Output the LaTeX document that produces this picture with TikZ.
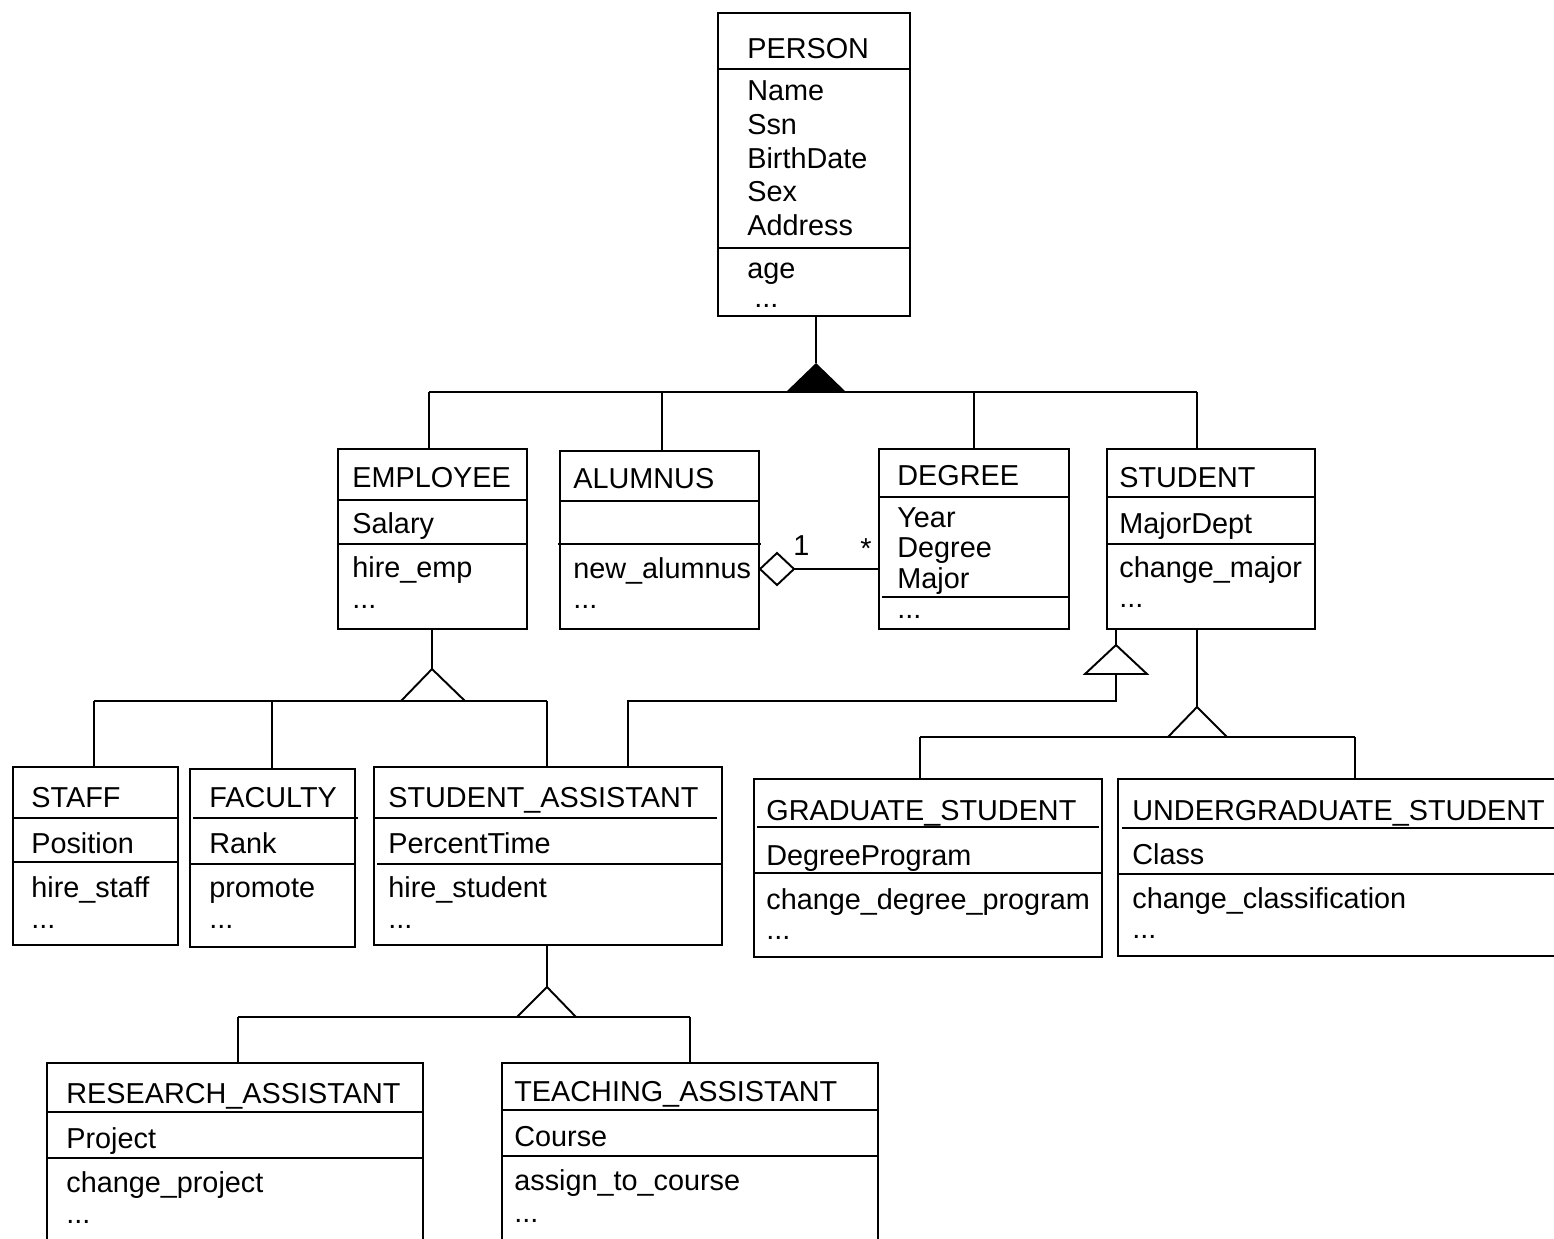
\documentclass[tikz,border=0pt]{standalone}
\usepackage{fontspec}
\setmainfont{Liberation Sans}
\usetikzlibrary{fit}

\tikzset{
  classbox/.style={draw, line width=1.1pt, inner sep=0pt},
  rule/.style={line width=1.1pt},
  link/.style={line width=1.1pt, line join=miter},
  lbl/.style={anchor=base west, inner sep=0pt, font=\fontsize{16.4pt}{19pt}\selectfont},
}

\begin{document}
\begin{tikzpicture}[x=0.02cm, y=-0.02cm]
\useasboundingbox (0,0) rectangle (1554,1238);
\clip (0,0) rectangle (1554,1238);
\fill[white] (0,0) rectangle (1554,1238);

% ---------- PERSON ----------
\node[classbox, fit={(718,13) (910,316)}] (person) {};
\draw[rule] (718,69) -- (910,69);
\draw[rule] (718,248) -- (910,248);
\node[lbl] (person-t)  at (747,58)  {PERSON};
\node[lbl] (person-a1) at (747,100) {Name};
\node[lbl] (person-a2) at (747,134) {Ssn};
\node[lbl] (person-a3) at (747,168) {BirthDate};
\node[lbl] (person-a4) at (747,201) {Sex};
\node[lbl] (person-a5) at (747,235) {Address};
\node[lbl] (person-m1) at (747,278) {age};
\node[lbl] (person-m2) at (754,307) {...};

% ---------- EMPLOYEE ----------
\node[classbox, fit={(338,449) (527,629)}] (employee) {};
\draw[rule] (338,500) -- (527,500);
\draw[rule] (338,544) -- (527,544);
\node[lbl] (employee-t)  at (352,487) {EMPLOYEE};
\node[lbl] (employee-a1) at (352,533) {Salary};
\node[lbl] (employee-m1) at (352,577) {hire\_emp};
\node[lbl] (employee-m2) at (352,608) {...};

% ---------- ALUMNUS ----------
\node[classbox, fit={(560,451) (759,629)}] (alumnus) {};
\draw[rule] (560,501) -- (759,501);
\draw[rule] (558,544) -- (761,544);
\node[lbl] (alumnus-t)  at (573,488) {ALUMNUS};
\node[lbl] (alumnus-m1) at (573,578) {new\_alumnus};
\node[lbl] (alumnus-m2) at (573,608) {...};

% ---------- DEGREE ----------
\node[classbox, fit={(879,449) (1069,629)}] (degree) {};
\draw[rule] (879,497) -- (1069,497);
\draw[rule] (882,597) -- (1070,597);
\node[lbl] (degree-t)  at (897,485) {DEGREE};
\node[lbl] (degree-a1) at (897,527) {Year};
\node[lbl] (degree-a2) at (897,557) {Degree};
\node[lbl] (degree-a3) at (897,588) {Major};
\node[lbl] (degree-m1) at (897,618) {...};

% ---------- STUDENT ----------
\node[classbox, fit={(1107,449) (1315,629)}] (student) {};
\draw[rule] (1107,497) -- (1315,497);
\draw[rule] (1107,544) -- (1315,544);
\node[lbl] (student-t)  at (1119,487) {STUDENT};
\node[lbl] (student-a1) at (1119,533) {MajorDept};
\node[lbl] (student-m1) at (1119,577) {change\_major};
\node[lbl] (student-m2) at (1119,607) {...};

% ---------- STAFF ----------
\node[classbox, fit={(13,767) (178,945)}] (staff) {};
\draw[rule] (13,818) -- (178,818);
\draw[rule] (13,862) -- (178,862);
\node[lbl] (staff-t)  at (31,807) {STAFF};
\node[lbl] (staff-a1) at (31,853) {Position};
\node[lbl] (staff-m1) at (31,897) {hire\_staff};
\node[lbl] (staff-m2) at (31,928) {...};

% ---------- FACULTY ----------
\node[classbox, fit={(190,769) (355,947)}] (faculty) {};
\draw[rule] (193,818) -- (358,818);
\draw[rule] (190,864) -- (355,864);
\node[lbl] (faculty-t)  at (209,807) {FACULTY};
\node[lbl] (faculty-a1) at (209,853) {Rank};
\node[lbl] (faculty-m1) at (209,897) {promote};
\node[lbl] (faculty-m2) at (209,928) {...};

% ---------- STUDENT_ASSISTANT ----------
\node[classbox, fit={(374,767) (722,945)}] (sassist) {};
\draw[rule] (374,818) -- (717,818);
\draw[rule] (377,864) -- (722,864);
\node[lbl] (sassist-t)  at (388,807) {STUDENT\_ASSISTANT};
\node[lbl] (sassist-a1) at (388,853) {PercentTime};
\node[lbl] (sassist-m1) at (388,897) {hire\_student};
\node[lbl] (sassist-m2) at (388,928) {...};

% ---------- GRADUATE_STUDENT ----------
\node[classbox, fit={(754,779) (1102,957)}] (grad) {};
\draw[rule] (757,827) -- (1099,827);
\draw[rule] (754,873) -- (1102,873);
\node[lbl] (grad-t)  at (766,820) {GRADUATE\_STUDENT};
\node[lbl] (grad-a1) at (766,865) {DegreeProgram};
\node[lbl] (grad-m1) at (766,909) {change\_degree\_program};
\node[lbl] (grad-m2) at (766,939) {...};

% ---------- UNDERGRADUATE_STUDENT ----------
\node[classbox, fit={(1118,779) (1580,956)}] (undergrad) {};
\draw[rule] (1122,828) -- (1580,828);
\draw[rule] (1118,874) -- (1580,874);
\node[lbl] (undergrad-t)  at (1132,820) {UNDERGRADUATE\_STUDENT};
\node[lbl] (undergrad-a1) at (1132,864) {Class};
\node[lbl] (undergrad-m1) at (1132,908) {change\_classification};
\node[lbl] (undergrad-m2) at (1132,938) {...};

% ---------- RESEARCH_ASSISTANT ----------
\node[classbox, fit={(47,1063) (423,1260)}] (research) {};
\draw[rule] (47,1112) -- (423,1112);
\draw[rule] (47,1158) -- (423,1158);
\node[lbl] (research-t)  at (66,1103) {RESEARCH\_ASSISTANT};
\node[lbl] (research-a1) at (66,1148) {Project};
\node[lbl] (research-m1) at (66,1192) {change\_project};
\node[lbl] (research-m2) at (66,1223) {...};

% ---------- TEACHING_ASSISTANT ----------
\node[classbox, fit={(502,1063) (878,1260)}] (teaching) {};
\draw[rule] (502,1110) -- (878,1110);
\draw[rule] (502,1156) -- (878,1156);
\node[lbl] (teaching-t)  at (514,1101) {TEACHING\_ASSISTANT};
\node[lbl] (teaching-a1) at (514,1146) {Course};
\node[lbl] (teaching-m1) at (514,1190) {assign\_to\_course};
\node[lbl] (teaching-m2) at (514,1222) {...};

% ---------- PERSON specialisation (filled triangle) ----------
\coordinate (pApex) at (816,363);
\coordinate (pL) at (786,392);
\coordinate (pR) at (846,392);
\coordinate (jE) at (429,392);
\coordinate (jA) at (662,392);
\coordinate (jD) at (974,392);
\coordinate (jS) at (1197,392);
\draw[link] (person.south -| pApex) -- (pApex);
\fill (pApex) -- (pL) -- (pR) -- cycle;
\draw[link] (jE) -- (jS);
\draw[link] (jE) -- (jE |- employee.north);
\draw[link] (jA) -- (jA |- alumnus.north);
\draw[link] (jD) -- (jD |- degree.north);
\draw[link] (jS) -- (jS |- student.north);

% ---------- ALUMNUS <>-- DEGREE aggregation ----------
\coordinate (dL) at (760,569);
\coordinate (dT) at (777,553);
\coordinate (dR) at (794,569);
\coordinate (dB) at (777,585);
\draw[link, fill=white] (dL) -- (dT) -- (dR) -- (dB) -- cycle;
\draw[link] (dR) -- (dR -| degree.west);
\node[lbl] (mult1) at (793,555) {1};
\node[lbl] (multn) at (860,558) {*};

% ---------- EMPLOYEE specialisation ----------
\coordinate (eApex) at (432,669);
\coordinate (eL) at (401,701);
\coordinate (eR) at (465,701);
\coordinate (jStaff) at (94,701);
\coordinate (jFac) at (272,701);
\coordinate (jSA) at (547,701);
\draw[link] (employee.south -| eApex) -- (eApex);
\draw[link] (eL) -- (eApex) -- (eR);
\draw[link] (jStaff) -- (jSA);
\draw[link] (jStaff) -- (jStaff |- staff.north);
\draw[link] (jFac) -- (jFac |- faculty.north);
\draw[link] (jSA) -- (jSA |- sassist.north);

% ---------- STUDENT -> STUDENT_ASSISTANT ----------
\coordinate (sApex) at (1116,645);
\coordinate (sL) at (1085,674);
\coordinate (sR) at (1147,674);
\coordinate (sB) at (1116,674);
\coordinate (sK) at (1116,701);
\coordinate (sK2) at (628,701);
\draw[link] (student.south -| sApex) -- (sApex);
\draw[link] (sApex) -- (sL) -- (sR) -- cycle;
\draw[link] (sB) -- (sK) -- (sK2) -- (sK2 |- sassist.north);

% ---------- STUDENT -> GRADUATE / UNDERGRADUATE ----------
\coordinate (gApex) at (1197,707);
\coordinate (gL) at (1168,737);
\coordinate (gR) at (1227,737);
\coordinate (jG) at (920,737);
\coordinate (jU) at (1355,737);
\draw[link] (student.south -| gApex) -- (gApex);
\draw[link] (gL) -- (gApex) -- (gR);
\draw[link] (jG) -- (jU);
\draw[link] (jG) -- (jG |- grad.north);
\draw[link] (jU) -- (jU |- undergrad.north);

% ---------- STUDENT_ASSISTANT specialisation ----------
\coordinate (aApex) at (547,987);
\coordinate (aL) at (517,1017);
\coordinate (aR) at (576,1017);
\coordinate (jR) at (238,1017);
\coordinate (jT) at (690,1017);
\draw[link] (sassist.south -| aApex) -- (aApex);
\draw[link] (aL) -- (aApex) -- (aR);
\draw[link] (jR) -- (jT);
\draw[link] (jR) -- (jR |- research.north);
\draw[link] (jT) -- (jT |- teaching.north);
\end{tikzpicture}
\end{document}
